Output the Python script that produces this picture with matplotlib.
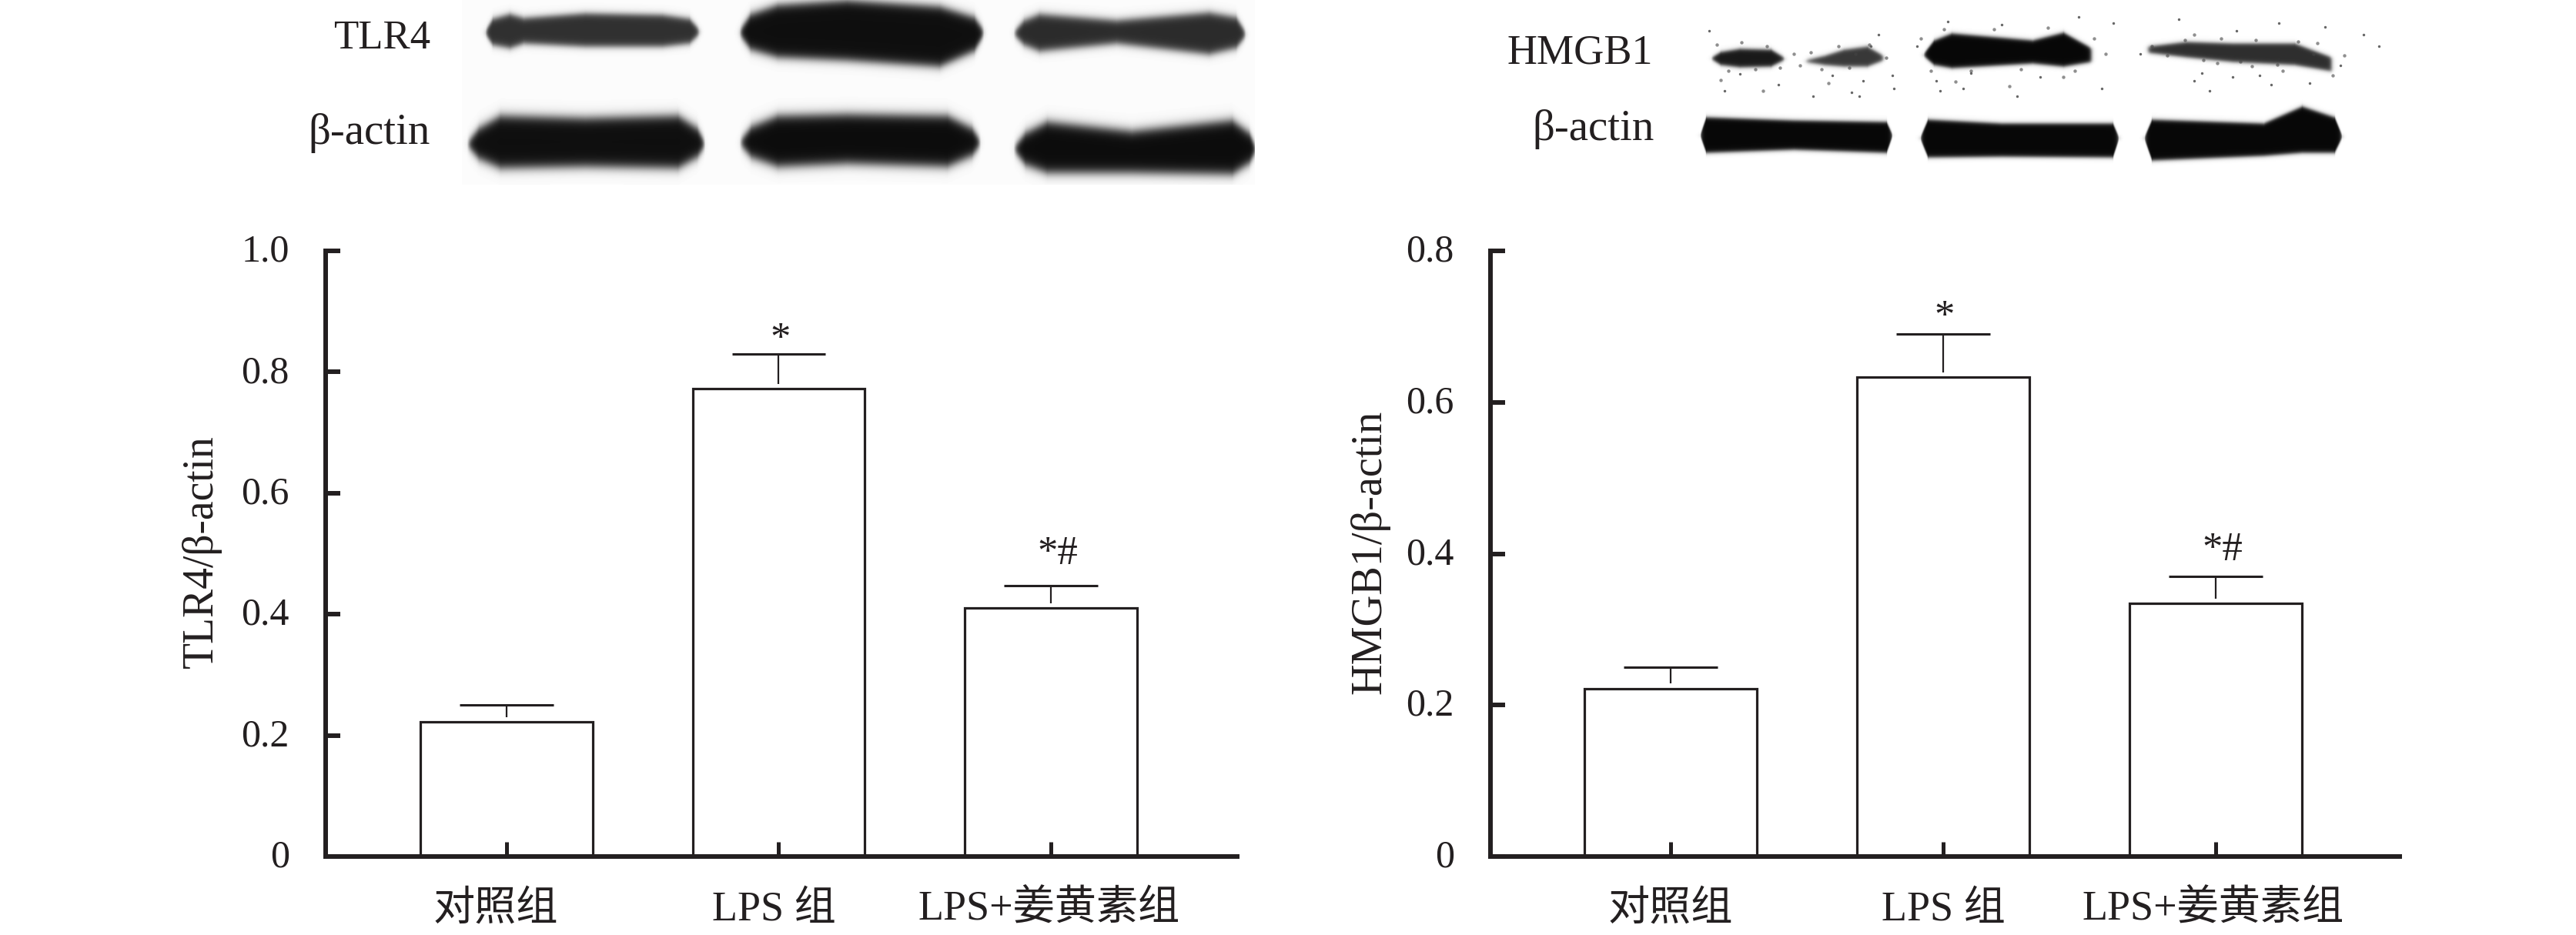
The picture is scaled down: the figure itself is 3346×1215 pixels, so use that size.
import numpy as np
import matplotlib
matplotlib.use('Agg')
import matplotlib.pyplot as plt
import matplotlib.transforms as mtrans

# Bar chart values
groups = ['对照组', 'LPS 组', 'LPS+姜黄素组']
tlr4_mean = [0.222, 0.772, 0.41]
tlr4_top = [0.25, 0.83, 0.447]
hmgb1_mean = [0.222, 0.633, 0.334]
hmgb1_top = [0.25, 0.69, 0.37]
tlr4_ticks = [0, 0.2, 0.4, 0.6, 0.8, 1.0]
tlr4_ticklabels = ['0', '0.2', '0.4', '0.6', '0.8', '1.0']
hmgb1_ticks = [0, 0.2, 0.4, 0.6, 0.8]
hmgb1_ticklabels = ['0', '0.2', '0.4', '0.6', '0.8']
marks = ['', '*', '*#']

W, H = 3346, 1215
INK = '#231f20'
plt.rcParams['font.family'] = ['Liberation Serif', 'Noto Sans CJK SC']

# Blot bands: x control points, upper edge, lower edge, darkness, blur (pixels)
left_bands = [
    ([630, 640, 662, 680, 760, 860, 895, 908], [40, 24, 18, 23, 17, 19, 24, 38], [44, 58, 62, 56, 60, 60, 56, 44], 0.8, 5),
    ([960, 975, 1010, 1100, 1220, 1265, 1278], [40, 18, 6, 0, 8, 22, 40], [44, 64, 74, 78, 86, 66, 44], 0.93, 7),
    ([1316, 1330, 1350, 1450, 1570, 1605, 1618], [42, 26, 18, 26, 16, 22, 42], [44, 58, 66, 56, 70, 62, 46], 0.82, 6),
    ([606, 622, 650, 760, 880, 905, 916], [186, 166, 150, 153, 150, 166, 186], [188, 206, 218, 216, 218, 204, 188], 0.93, 8),
    ([960, 976, 1010, 1100, 1230, 1262, 1274], [184, 164, 150, 148, 150, 166, 184], [186, 204, 216, 212, 216, 202, 186], 0.94, 8),
    ([1316, 1332, 1360, 1470, 1600, 1622, 1632], [192, 172, 158, 170, 156, 172, 194], [194, 214, 224, 224, 226, 212, 194], 0.94, 8),
]
right_bands = [
    ([2222, 2235, 2260, 2300, 2318], [75, 67, 63, 64, 75], [76, 84, 87, 86, 77], 0.9, 3),
    ([2345, 2370, 2395, 2425, 2446], [78, 72, 64, 60, 72], [80, 84, 86, 86, 78], 0.78, 3),
    ([2498, 2512, 2535, 2640, 2680, 2716], [70, 52, 43, 52, 42, 62], [72, 84, 88, 82, 86, 80], 0.97, 3),
    ([2790, 2840, 2900, 2980, 3028], [60, 54, 56, 56, 74], [68, 74, 80, 84, 92], 0.82, 3),
    ([2208, 2216, 2330, 2450, 2458], [175, 152, 156, 158, 175], [176, 198, 194, 198, 176], 0.97, 3),
    ([2494, 2504, 2600, 2744, 2752], [178, 155, 160, 160, 178], [180, 204, 203, 204, 180], 0.97, 3),
    ([2785, 2795, 2940, 2990, 3032, 3042], [178, 155, 160, 138, 152, 176], [180, 208, 202, 198, 198, 178], 0.97, 3),
]
# Loose specks around the HMGB1 row, read by eye
speck_x = [2220, 2260, 2310, 2355, 2380, 2405, 2415, 2440, 2458, 2490, 2515, 2530, 2550, 2600,
           2620, 2650, 2700, 2730, 2780, 2830, 2850, 2870, 2905, 2935, 2960, 3000, 3040, 3070,
           3090, 2240, 2420, 2560, 2745, 2860, 2950, 3020, 2430, 2460, 2520, 2900]
speck_y = [40, 96, 110, 125, 98, 120, 125, 45, 98, 60, 105, 28, 115, 32, 125, 100, 22, 115, 70,
           25, 105, 118, 40, 98, 30, 108, 85, 45, 60, 118, 105, 95, 30, 95, 110, 35, 60, 115, 118, 100]
grain_x = [2230, 2245, 2262, 2280, 2295, 2312, 2330, 2338, 2352, 2366, 2388, 2402, 2428, 2450,
           2495, 2508, 2525, 2560, 2590, 2625, 2660, 2695, 2720, 2735, 2795, 2815, 2838, 2862,
           2885, 2910, 2930, 2958, 2985, 3005, 3030, 3045, 2850, 2880, 2925, 2965, 3010, 2235,
           2290, 2375, 2410, 2540, 2610, 2680]
grain_y = [58, 92, 55, 90, 60, 88, 70, 85, 68, 90, 60, 88, 58, 75, 50, 92, 38, 92, 38, 90, 36,
           92, 50, 70, 60, 72, 52, 78, 50, 80, 52, 84, 54, 70, 98, 72, 45, 82, 86, 92, 56, 104,
           118, 108, 70, 106, 112, 100]


def render_band(img, x0, band):
    xs, top, bot, dark, blur = band
    rows, cols = img.shape
    xx = np.arange(cols) + x0
    yy = np.arange(rows)[:, None]
    t = np.interp(xx, xs, top)
    b = np.interp(xx, xs, bot)
    v = 0.5 * (np.tanh((yy - t) / blur) - np.tanh((yy - b) / blur))
    h = 0.5 * (np.tanh((xx - xs[0]) / 3.0) - np.tanh((xx - xs[-1]) / 3.0))
    img[:] = np.maximum(img, dark * v * h)


def blot_image(ax, x0, x1, bands, shade):
    img = np.zeros((240, x1 - x0))
    for band in bands:
        render_band(img, x0, band)
    ax.imshow(np.clip(1 - shade - img, 0, 1), cmap='gray', vmin=0, vmax=1, aspect='auto',
              extent=(x0, x1, 240, 0), zorder=1, interpolation='bilinear')


def bar_panel(box, lim, means, tops, ticks, ticklabels, ymax, mark_y, label_dx):
    left, right, top, bottom = box
    ax = fig.add_axes([left / W, 1 - bottom / H, (right - left) / W, (bottom - top) / H])
    ax.patch.set_alpha(0)
    x = np.arange(len(means))
    ax.bar(x, means, width=0.633, color='white', edgecolor=INK, linewidth=2.3)
    ax.vlines(x, np.array(means) + ymax * 0.008, tops, color=INK, linewidth=1.6)
    ax.hlines(tops, x - 0.172, x + 0.172, color=INK, linewidth=2.2)
    ax.set_xlim(*lim)
    ax.set_ylim(0, ymax)
    for s in ['top', 'right']:
        ax.spines[s].set_visible(False)
    for s in ['left', 'bottom']:
        ax.spines[s].set_linewidth(4.3)
        ax.spines[s].set_color(INK)
    ax.set_yticks(ticks)
    ax.set_yticklabels(ticklabels)
    ax.set_xticks(x)
    ax.set_xticklabels(groups)
    ax.tick_params(axis='y', direction='in', length=13.7, width=4.3, pad=34,
                   labelsize=36, color=INK, labelcolor=INK)
    ax.tick_params(axis='x', direction='in', length=14, width=3.6, pad=32,
                   labelsize=39, color=INK, labelcolor=INK)
    for lab, dx in zip(ax.get_xticklabels(), label_dx):
        lab.set_transform(lab.get_transform() + mtrans.Affine2D().translate(dx, 0))
    for lab in ax.get_yticklabels():
        lab.set_transform(lab.get_transform() + mtrans.Affine2D().translate(0, 4))
    for i, m in enumerate(marks):
        if m:
            ax.text(i + (0.005 if i == 1 else 0.025), mark_y[i], m, ha='center', va='center',
                    fontsize=38, color=INK)
    return ax


fig = plt.figure(figsize=(W / 100, H / 100), dpi=100, facecolor='white')

# Pixel coordinate layer for the blot strips and their labels
blot = fig.add_axes([0, 0, 1, 1])
blot_image(blot, 600, 1630, left_bands, 0.012)
blot_image(blot, 2190, 3100, right_bands, 0.0)
blot.scatter(speck_x, speck_y, s=6, color='#666666', linewidths=0, zorder=2)
blot.scatter(grain_x, grain_y, s=10, color='#444444', alpha=0.6, linewidths=0, zorder=2)
blot.set_xlim(0, W)
blot.set_ylim(H, 0)
blot.axis('off')
for x_, y_, s_, fs in [(559, 50, 'TLR4', 38), (559, 173, 'β-actin', 41),
                       (2147, 69, 'HMGB1', 39), (2149, 168, 'β-actin', 41)]:
    blot.text(x_, y_, s_, ha='right', va='center', fontsize=fs, color=INK)

bar_panel((423, 1607, 326, 1113), (-0.665, 2.685), tlr4_mean, tlr4_top,
          tlr4_ticks, tlr4_ticklabels, 1.0, [0, 0.853, 0.5], [-14, -6, -2])
bar_panel((1936, 3117, 326, 1113), (-0.661, 2.675), hmgb1_mean, hmgb1_top,
          hmgb1_ticks, hmgb1_ticklabels, 0.8, [0, 0.7115, 0.405], [0, 0, -3])

fig.text(262 / W, 1 - 717 / H, 'TLR4/β-actin', rotation=90, ha='center', va='center',
         fontsize=40, color=INK)
fig.text(1779 / W, 1 - 717 / H, 'HMGB1/β-actin', rotation=90, ha='center', va='center',
         fontsize=40.5, color=INK)

fig.savefig('out.png', dpi=100)
